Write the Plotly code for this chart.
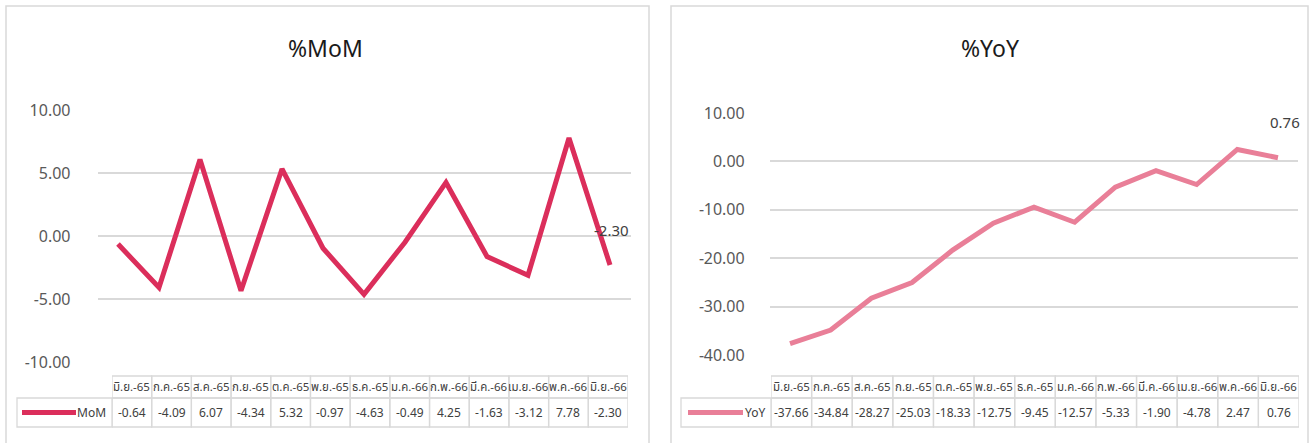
import plotly.graph_objects as go

months = ["มิ.ย.-65", "ก.ค.-65", "ส.ค.-65", "ก.ย.-65", "ต.ค.-65", "พ.ย.-65", "ธ.ค.-65",
          "ม.ค.-66", "ก.พ.-66", "มี.ค.-66", "เม.ย.-66", "พ.ค.-66", "มิ.ย.-66"]
mom = [-0.64, -4.09, 6.07, -4.34, 5.32, -0.97, -4.63, -0.49, 4.25, -1.63, -3.12, 7.78, -2.30]
yoy = [-37.66, -34.84, -28.27, -25.03, -18.33, -12.75, -9.45, -12.57, -5.33, -1.90, -4.78, 2.47, 0.76]

W, H = 1314, 443
FONT = "Noto Sans Thai, Leelawadee UI, Tahoma, Noto Sans, sans-serif"
MOM_COLOR = "#DB2E5B"
YOY_COLOR = "#E97F98"
GRID = "#D9D9D9"


def px(x):
    return x / W


def py(y):
    return 1 - y / H


fig = go.Figure()
fig.add_trace(go.Scatter(x=months, y=mom, mode="lines", name="MoM",
                         line=dict(color=MOM_COLOR, width=5), xaxis="x", yaxis="y",
                         showlegend=False))
fig.add_trace(go.Scatter(x=months, y=yoy, mode="lines", name="YoY",
                         line=dict(color=YOY_COLOR, width=5), xaxis="x2", yaxis="y2",
                         showlegend=False))
# invisible anchors for the data-table axes
for xa, ya in (("x3", "y3"), ("x4", "y4")):
    fig.add_trace(go.Scatter(x=months, y=[0] * len(months), mode="markers",
                             marker=dict(opacity=0), xaxis=xa, yaxis=ya,
                             hoverinfo="skip", showlegend=False))

axis_common = dict(showline=False, zeroline=False, showticklabels=False,
                   showgrid=False, fixedrange=True, automargin=False)
yfont = dict(family=FONT, size=16, color="#595959")

fig.update_layout(
    width=W, height=H, margin=dict(l=0, r=0, t=0, b=0, pad=0, autoexpand=False),
    autosize=False, showlegend=False,
    paper_bgcolor="white", plot_bgcolor="white",
    xaxis=dict(domain=[px(97.5), px(630.5)], range=[-0.5, 12.5], type="category",
               **axis_common, anchor="y"),
    yaxis=dict(domain=[py(362), py(110)], range=[-10, 10], dtick=5, tickformat=".2f",
               showgrid=True, gridcolor=GRID, gridwidth=2, zeroline=False,
               showline=False, tickfont=yfont, ticks="", ticklabelstandoff=26,
               fixedrange=True, anchor="x", automargin=False),
    xaxis2=dict(domain=[px(769.7), px(1298.3)], range=[-0.5, 12.5], type="category",
                **axis_common, anchor="y2"),
    yaxis2=dict(domain=[py(355), py(113)], range=[-40, 10], dtick=10, tickformat=".2f",
                showgrid=True, gridcolor=GRID, gridwidth=2, zeroline=False,
                showline=False, tickfont=yfont, ticks="", ticklabelstandoff=24,
                fixedrange=True, anchor="x2", automargin=False),
    xaxis3=dict(domain=[px(112), px(628)], range=[-0.5, 12.5], type="category",
                visible=False, anchor="y3", automargin=False),
    yaxis3=dict(domain=[0, 0.01], visible=False, anchor="x3", automargin=False),
    xaxis4=dict(domain=[px(771), px(1299)], range=[-0.5, 12.5], type="category",
                visible=False, anchor="y4", automargin=False),
    yaxis4=dict(domain=[0, 0.01], visible=False, anchor="x4", automargin=False),
)

shapes = []
annotations = []

# panel borders
for x0, x1 in ((6, 649), (671, 1308)):
    shapes.append(dict(type="rect", xref="paper", yref="paper", x0=px(x0), x1=px(x1),
                       y0=py(446), y1=py(6), line=dict(color=GRID, width=1.5),
                       fillcolor="rgba(0,0,0,0)", layer="below"))

# titles
for txt, xc in (("%MoM", 325), ("%YoY", 990)):
    annotations.append(dict(text=txt, x=px(xc), y=py(50), xref="paper", yref="paper",
                            showarrow=False, font=dict(family=FONT, size=23, color="#1a1a1a"),
                            xanchor="center", yanchor="middle"))

# data labels for last points
annotations.append(dict(text=f"{mom[-1]:.2f}", x=months[-1], y=mom[-1], xref="x", yref="y",
                        showarrow=False, yshift=33, xshift=1,
                        font=dict(family=FONT, size=15, color="#404040")))
annotations.append(dict(text=f"{yoy[-1]:.2f}", x=months[-1], y=yoy[-1], xref="x2", yref="y2",
                        showarrow=False, yshift=34, xshift=7,
                        font=dict(family=FONT, size=15, color="#404040")))

# data tables
HEAD_TOP, HEAD_BOT, ROW_BOT = 376, 398, 427
tables = [
    dict(xref="x3", vals=mom, name="MoM", color=MOM_COLOR, lab_left=17, col_left=112,
         key=(22, 76)),
    dict(xref="x4", vals=yoy, name="YoY", color=YOY_COLOR, lab_left=681, col_left=771,
         key=(688, 743)),
]
tfont = dict(family=FONT, size=12, color="#404040")
for t in tables:
    # header cells and value cells
    for i, m in enumerate(months):
        for y0, y1 in ((HEAD_TOP, HEAD_BOT), (HEAD_BOT, ROW_BOT)):
            shapes.append(dict(type="rect", xref=t["xref"], yref="paper",
                               x0=i - 0.5, x1=i + 0.5, y0=py(y1), y1=py(y0),
                               line=dict(color=GRID, width=1.3), layer="below"))
        annotations.append(dict(text=m, x=m, y=py((HEAD_TOP + HEAD_BOT) / 2),
                                xref=t["xref"], yref="paper", showarrow=False,
                                font=dict(family=FONT, size=11.5, color="#404040"),
                                xanchor="center", yanchor="middle"))
        annotations.append(dict(text=f"{t['vals'][i]:.2f}", x=m,
                                y=py((HEAD_BOT + ROW_BOT) / 2), xref=t["xref"],
                                yref="paper", showarrow=False, font=tfont,
                                xanchor="center", yanchor="middle"))
    # series label cell
    shapes.append(dict(type="rect", xref="paper", yref="paper", x0=px(t["lab_left"]),
                       x1=px(t["col_left"]), y0=py(ROW_BOT), y1=py(HEAD_BOT),
                       line=dict(color=GRID, width=1.3), layer="below"))
    shapes.append(dict(type="line", xref="paper", yref="paper", x0=px(t["key"][0]),
                       x1=px(t["key"][1]), y0=py(412.5), y1=py(412.5),
                       line=dict(color=t["color"], width=5)))
    annotations.append(dict(text=t["name"], x=px(t["col_left"] - 4), y=py(412.5),
                            xref="paper", yref="paper", showarrow=False, font=tfont,
                            xanchor="right", yanchor="middle"))

fig.update_layout(shapes=shapes, annotations=annotations)
fig.write_html(
    "out.html",
    config={"responsive": False, "displayModeBar": False},
    post_script="document.body.style.margin='0';document.body.style.overflow='hidden';",
)
